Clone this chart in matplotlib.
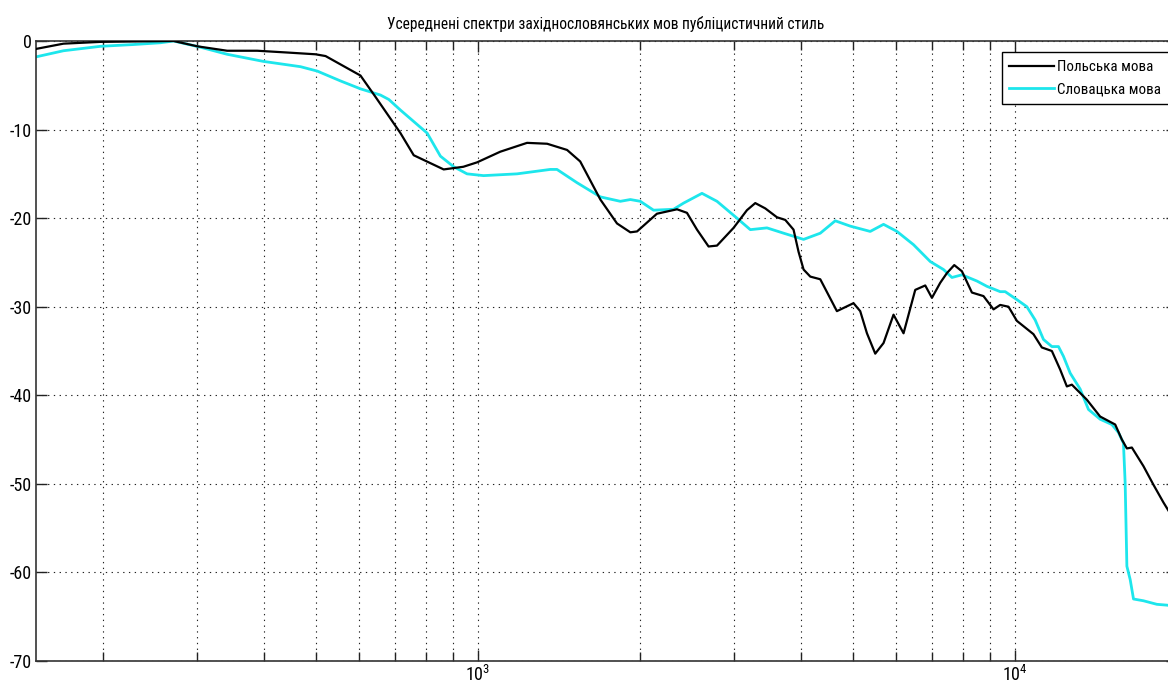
import math
import matplotlib
matplotlib.use("Agg")
import matplotlib.pyplot as plt
from matplotlib import font_manager
from matplotlib.ticker import LogLocator, FixedLocator, NullFormatter, FuncFormatter

# ---------------- data ----------------
title_text = "Усереднені спектри західнословянських мов публіцистичний стиль"
label_pl = "Польська мова"
label_sk = "Словацька мова"

freq_pl = [150, 169, 198, 271, 300, 341, 388, 441, 498, 520, 604, 644, 717, 759, 863, 939,
           996, 1100, 1234, 1345, 1465, 1550, 1690, 1815, 1922, 1978, 2154, 2348, 2450, 2558,
           2688, 2787, 2992, 3169, 3284, 3428, 3604, 3735, 3870, 3954, 4040, 4158, 4340, 4661,
           5005, 5151, 5302, 5494, 5693, 5942, 6203, 6522, 6808, 7006, 7260, 7472, 7710, 7968,
           8317, 8740, 9124, 9389, 9730, 10086, 10829, 11226, 11719, 12144, 12497, 12768, 13616,
           14414, 15375, 15823, 16166, 16516, 17357, 18117, 18911, 20000]
db_pl = [-0.9, -0.3, -0.1, 0.0, -0.6, -1.1, -1.1, -1.3, -1.5, -1.7, -3.9, -6.3, -10.4, -12.9,
         -14.5, -14.2, -13.7, -12.5, -11.5, -11.6, -12.3, -13.6, -17.9, -20.6, -21.6, -21.5,
         -19.5, -19.0, -19.4, -21.3, -23.2, -23.1, -21.1, -19.1, -18.3, -18.9, -19.9, -20.2,
         -21.3, -23.8, -25.8, -26.6, -26.9, -30.5, -29.6, -30.5, -33.0, -35.3, -34.1, -30.9,
         -33.0, -28.1, -27.6, -29.0, -27.3, -26.2, -25.3, -26.0, -28.4, -28.8, -30.3, -29.8,
         -30.0, -31.6, -33.1, -34.6, -35.0, -37.1, -39.0, -38.8, -40.5, -42.4, -43.3, -45.0,
         -46.0, -45.9, -48.0, -50.1, -52.1, -54.5]

freq_sk = [150, 169, 198, 228, 256, 271, 304, 341, 398, 467, 502, 554, 604, 658, 682, 717, 804,
           851, 901, 954, 1024, 1182, 1363, 1403, 1529, 1690, 1841, 1922, 2006, 2123, 2313, 2415,
           2613, 2787, 3036, 3215, 3453, 3709, 4040, 4340, 4628, 4935, 5377, 5693, 6030, 6475,
           6956, 7362, 7634, 7968, 8497, 8870, 9389, 9592, 10086, 10527, 10909, 11305, 11719,
           12055, 12316, 12677, 13231, 13711, 14414, 15157, 15592, 15930, 16047, 16166, 16396,
           16632, 17357, 18383, 19250, 20000]
db_sk = [-1.8, -1.1, -0.6, -0.4, -0.2, 0.0, -0.7, -1.5, -2.3, -2.9, -3.4, -4.5, -5.4, -6.1, -6.6,
         -7.8, -10.4, -13.0, -14.2, -15.0, -15.2, -15.0, -14.5, -14.5, -16.0, -17.6, -18.1, -17.9,
         -18.1, -19.1, -19.0, -18.3, -17.2, -18.1, -20.0, -21.3, -21.1, -21.7, -22.4, -21.7, -20.3,
         -20.9, -21.5, -20.7, -21.5, -23.0, -24.9, -25.8, -26.7, -26.4, -27.1, -27.7, -28.3, -28.3,
         -29.2, -30.0, -31.5, -33.7, -34.5, -34.5, -35.6, -37.5, -39.3, -41.6, -42.7, -43.3, -44.2,
         -45.4, -49.9, -59.3, -60.8, -63.0, -63.2, -63.6, -63.7, -64.0]

y_ticks = [0, -10, -20, -30, -40, -50, -60, -70]
x_major = [1e3, 1e4]

# ---------------- fonts ----------------
available = {f.name for f in font_manager.fontManager.ttflist}
font = "DejaVu Sans"
for cand in ["Liberation Sans Narrow", "Arial Narrow", "Roboto Condensed", "Liberation Sans"]:
    if cand in available:
        font = cand
        break
plt.rcParams["font.family"] = [font, "DejaVu Sans"]
plt.rcParams["mathtext.fontset"] = "custom"
plt.rcParams["mathtext.rm"] = font
plt.rcParams["mathtext.default"] = "regular"
plt.rcParams["axes.unicode_minus"] = False

W, H = 1168, 690
fig = plt.figure(figsize=(W / 100, H / 100), dpi=100)
fig.patch.set_facecolor("white")
ax_left, ax_right, ax_top, ax_bottom = 35.7, 1176.5, 41.0, 661.0
ax = fig.add_axes([ax_left / W, (H - ax_bottom) / H, (ax_right - ax_left) / W, (ax_bottom - ax_top) / H])

ln_pl, = ax.plot(freq_pl, db_pl, color="black", lw=1.6, label=label_pl, zorder=3)
ln_sk, = ax.plot(freq_sk, db_sk, color="#1de6ec", lw=2.0, label=label_sk, zorder=2)

ax.set_xscale("log")
ax.set_xlim(150, 20000)
ax.set_ylim(-70, 0)
ax.set_yticks(y_ticks)
ax.xaxis.set_major_locator(FixedLocator(x_major))
ax.xaxis.set_minor_locator(LogLocator(base=10, subs=[2, 3, 4, 5, 6, 7, 8, 9]))
ax.xaxis.set_minor_formatter(NullFormatter())
ax.xaxis.set_major_formatter(FuncFormatter(lambda v, p: r"$10^{%d}$" % round(math.log10(v))))

grid_kw = dict(color="#222222", lw=0.8, linestyle=(0, (1.2, 4)))
ax.grid(True, which="major", axis="both", **grid_kw)
ax.grid(True, which="minor", axis="x", **grid_kw)
ax.set_axisbelow(True)

ax.tick_params(which="both", direction="in", top=True, right=True, color="#222222", labelsize=13)
ax.tick_params(which="major", length=8, width=1.0, pad=3)
ax.tick_params(which="minor", length=6.5, width=1.0)
for s in ax.spines.values():
    s.set_color("#333333")
    s.set_linewidth(1.2)

ax.set_title(title_text, fontsize=11.2, pad=9)

leg = ax.legend(handles=[ln_pl, ln_sk], loc="upper left",
                bbox_to_anchor=(1001.7 / W, 1 - 52.3 / H), bbox_transform=fig.transFigure,
                fontsize=10.8, frameon=True, fancybox=False, edgecolor="black", framealpha=1,
                handlelength=3.0, handletextpad=0.2, labelspacing=0.55, borderpad=0.5,
                borderaxespad=0)
leg.get_frame().set_linewidth(1.0)

fig.savefig("out.png", dpi=100)
